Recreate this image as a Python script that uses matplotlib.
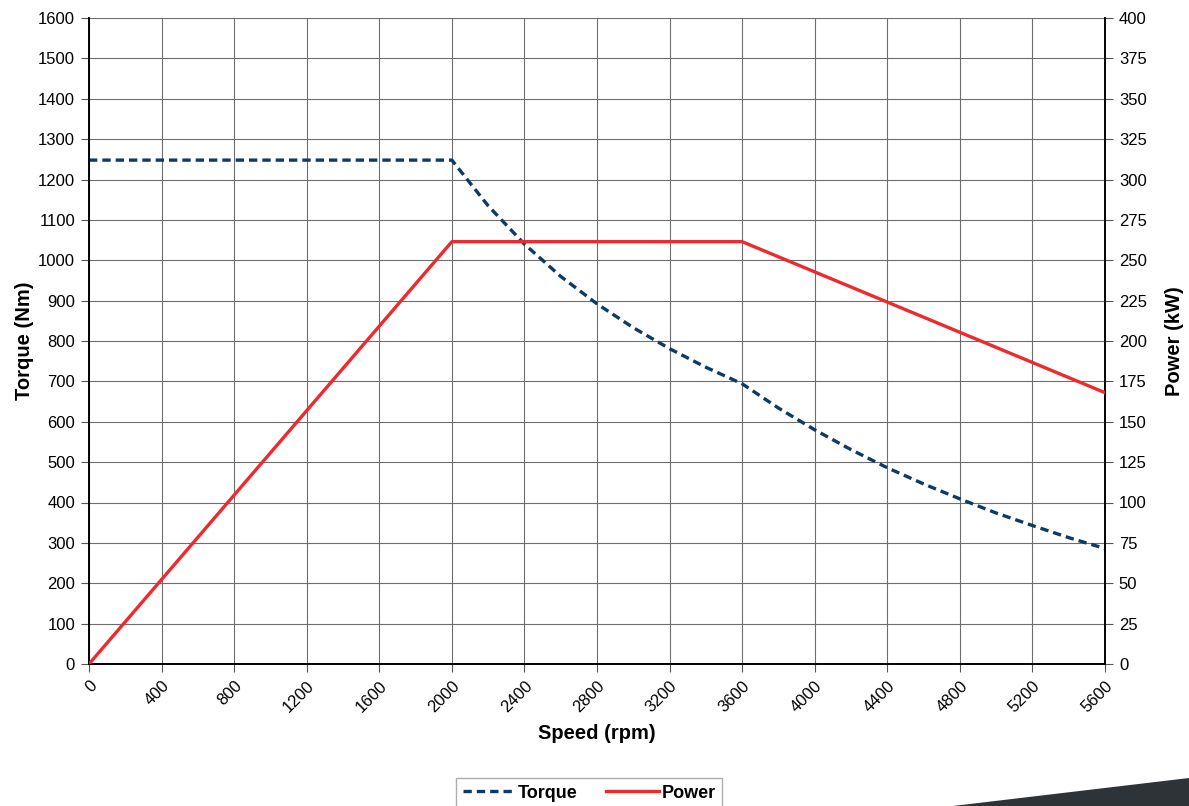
import matplotlib
matplotlib.use("Agg")
import matplotlib.pyplot as plt
from matplotlib.patches import Polygon

plt.rcParams['font.family'] = ['Liberation Sans', 'DejaVu Sans']

speed = [0, 200, 400, 600, 800, 1000, 1200, 1400, 1600, 1800, 2000, 2200, 2400, 2600, 2800, 3000,
         3200, 3400, 3600, 3800, 4000, 4200, 4400, 4600, 4800, 5000, 5200, 5400, 5600]
torque = [1248, 1248, 1248, 1248, 1248, 1248, 1248, 1248, 1248, 1248, 1248, 1135, 1040, 960, 892, 833,
          781, 735, 694, 634, 580, 531, 486, 446, 409, 374, 343, 313, 286]
power_speed = [0, 2000, 3600, 5600]
power = [0, 261.5, 261.5, 168]

xticks = list(range(0, 5601, 400))
yticks_l = list(range(0, 1601, 100))
yticks_r = list(range(0, 401, 25))

fig = plt.figure(figsize=(11.89, 8.06), dpi=100)
ax = fig.add_axes([89/1189, 1-664/806, (1105-89)/1189, (664-18)/806])
ax2 = ax.twinx()

ax.set_xlim(0, 5600)
ax.set_ylim(0, 1600)
ax2.set_ylim(0, 400)
ax.set_xticks(xticks)
ax.set_yticks(yticks_l)
ax2.set_yticks(yticks_r)
ax.grid(True, color='#6e6e6e', linewidth=0.8)
ax.set_axisbelow(True)

l1, = ax.plot(speed, torque, color='#0d3a66', linewidth=2.4, linestyle=(0, (2.5, 1.5)), zorder=3)
l2, = ax2.plot(power_speed, power, color='#ee2a2f', linewidth=2.4, zorder=3)

for a in (ax, ax2):
    for s in a.spines.values():
        s.set_linewidth(1.2)
    a.spines['top'].set_visible(False)
    a.tick_params(labelsize=12, length=6, width=0.8, color='#555555', pad=4)

ax.set_xticklabels([str(t) for t in xticks], rotation=45, ha='right', rotation_mode='anchor')
ax.set_ylabel('Torque (Nm)', fontsize=14.5, fontweight='bold', labelpad=3)
ax2.set_ylabel('Power (kW)', fontsize=14.5, fontweight='bold', labelpad=13)
ax.set_xlabel('Speed (rpm)', fontsize=14.5, fontweight='bold', labelpad=7)

leg = fig.legend([l1, l2], ['Torque', 'Power'], loc='center', bbox_to_anchor=(589/1189, 1-793/806),
                 ncol=2, frameon=True, fancybox=False, edgecolor='#999999',
                 prop={'weight': 'bold', 'size': 13}, handlelength=2.9, handletextpad=0.15,
                 columnspacing=1.6, borderpad=0.35)
leg.get_frame().set_linewidth(1.0)

tri = Polygon([[953/1189, 0], [1, 1-778/806], [1, 0]], closed=True, transform=fig.transFigure,
              facecolor='#2e3338', edgecolor='none')
fig.patches.append(tri)

fig.savefig('out.png', dpi=100)
